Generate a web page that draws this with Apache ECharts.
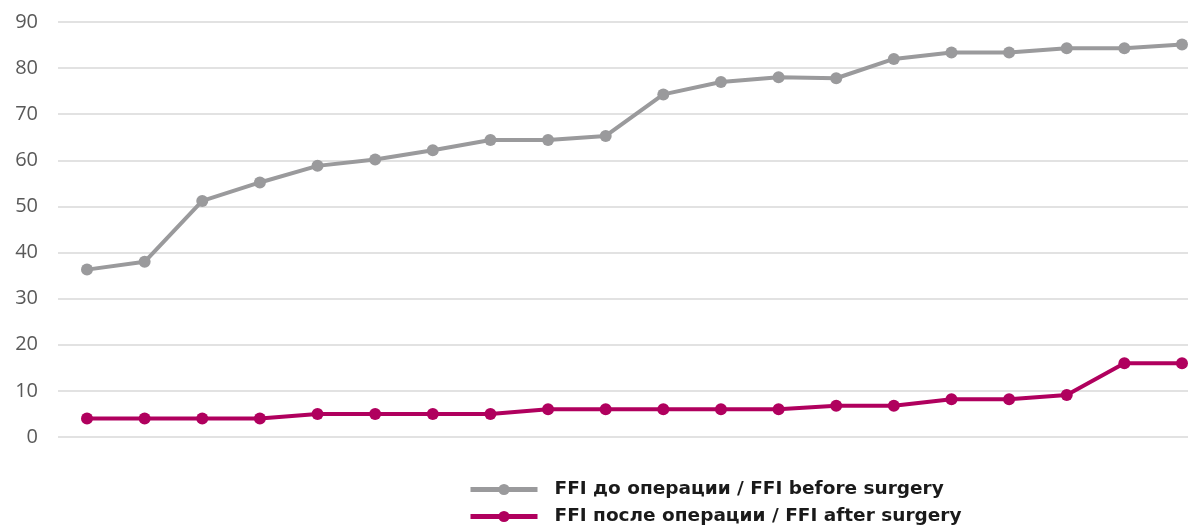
<!DOCTYPE html>
<html>
<head>
<meta charset="utf-8">
<script src="https://cdn.jsdelivr.net/npm/echarts@6/dist/echarts.min.js"></script>
<style>
  html, body { margin: 0; padding: 0; background: #fff; }
  #chart { width: 1188px; height: 529px; }
</style>
</head>
<body>
<div id="chart"></div>
<script>
// Patient index (sorted by pre-operative score)
const categories = ['1','2','3','4','5','6','7','8','9','10','11','12','13','14','15','16','17','18','19','20'];

// Value axis ticks
const yMin = 0;
const yMax = 90;
const yStep = 10;

// Foot Function Index before and after surgery
const ffiBefore = [36.3, 38.0, 51.2, 55.2, 58.8, 60.2, 62.2, 64.4, 64.4, 65.3, 74.3, 77.0, 78.0, 77.8, 82.0, 83.4, 83.4, 84.3, 84.3, 85.1];
const ffiAfter  = [4.0, 4.0, 4.0, 4.0, 5.0, 5.0, 5.0, 5.0, 6.0, 6.0, 6.0, 6.0, 6.0, 6.8, 6.8, 8.2, 8.2, 9.1, 16.0, 16.0];

const nameBefore = 'FFI до операции / FFI before surgery';
const nameAfter  = 'FFI после операции / FFI after surgery';

const colorBefore = '#9a9a9c';
const colorAfter = '#b0005e';

const chart = echarts.init(document.getElementById('chart'), null, { renderer: 'canvas' });

const legendText = { fontFamily: '"DejaVu Sans", Verdana, sans-serif', fontWeight: 'bold', fontSize: 18.5, color: '#1a1a1a' };
function legendFor(name, top) {
  return {
    left: 468,
    top: top,
    padding: 0,
    itemWidth: 67,
    itemHeight: 14,
    itemGap: 0,
    lineStyle: { width: 5 },
    itemStyle: { borderWidth: 0 },
    textStyle: Object.assign({ padding: [0, 0, 0, 12] }, legendText),
    data: [name]
  };
}

chart.setOption({
  animation: false,
  backgroundColor: '#ffffff',
  // grid 0 carries the value scale and the horizontal rules; grid 1 carries the lines
  grid: [
    { left: 58, top: 22, right: 0, height: 415 },
    { left: 87, top: 22, right: 6, height: 415 }
  ],
  legend: [legendFor(nameBefore, 480), legendFor(nameAfter, 507)],
  xAxis: [
    { type: 'category', gridIndex: 0, data: categories, show: false },
    {
      type: 'category',
      gridIndex: 1,
      data: categories,
      boundaryGap: false,
      axisLine: { show: false },
      axisTick: { show: false },
      axisLabel: { show: false },
      splitLine: { show: false }
    }
  ],
  yAxis: [
    {
      type: 'value',
      gridIndex: 0,
      min: yMin,
      max: yMax,
      interval: yStep,
      axisLine: { show: false },
      axisTick: { show: false },
      axisLabel: { fontFamily: 'Open Sans', fontSize: 20, color: '#595959', margin: 20 },
      splitLine: { lineStyle: { color: '#d9d9d9', width: 1.5 } }
    },
    {
      type: 'value',
      gridIndex: 1,
      min: yMin,
      max: yMax,
      interval: yStep,
      show: false,
      splitLine: { show: false }
    }
  ],
  series: [
    {
      name: nameBefore,
      type: 'line',
      xAxisIndex: 1,
      yAxisIndex: 1,
      data: ffiBefore,
      symbol: 'circle',
      symbolSize: 12,
      lineStyle: { color: colorBefore, width: 4 },
      itemStyle: { color: colorBefore }
    },
    {
      name: nameAfter,
      type: 'line',
      xAxisIndex: 1,
      yAxisIndex: 1,
      data: ffiAfter,
      symbol: 'circle',
      symbolSize: 12,
      lineStyle: { color: colorAfter, width: 4 },
      itemStyle: { color: colorAfter }
    }
  ]
});
</script>
</body>
</html>
